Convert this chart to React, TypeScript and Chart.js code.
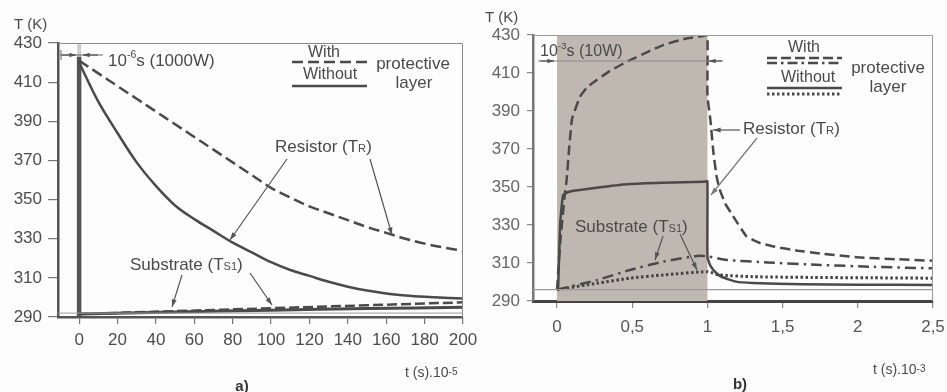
import React, { useEffect, useRef } from "react";
import { Chart, registerables } from "chart.js";
Chart.register(...registerables);

// ---------- Panel a) : 1000 W pulse, 10^-6 s ----------
const aTime = [0, 10, 20, 30, 40, 50, 60, 70, 80, 90, 100, 110, 120, 130, 140, 150, 160, 170, 180, 190, 200];
const aResistorWith = [421, 414.5, 408, 401.5, 395, 388.5, 382, 375.5, 369, 362.5, 356, 351, 346.5, 343, 339.5, 336, 333, 330, 327.5, 325.5, 323.8];
const aResistorWithout = [420, 400, 384, 369, 357, 347, 340, 334, 328, 323, 318, 314, 311, 308, 305.5, 303.5, 302, 301, 300.3, 299.8, 299.5];
const aSubTime = [0, 50, 100, 150, 200];
const aSubstrateWith = [291.5, 293, 294.5, 296, 297.5];
const aSubstrateWithout = [291.5, 292.5, 293.5, 294.3, 295];
const aPulseTime = [0, 0];
const aPulseTemp = [290, 423];
const aRefTime = [-11, 200];
const aRefTemp = [292, 292];
const aXTicks = [0, 20, 40, 60, 80, 100, 120, 140, 160, 180, 200];
const aYTicks = [290, 310, 330, 350, 370, 390, 410, 430];

// ---------- Panel b) : 10 W pulse, 10^-3 s ----------
const bResWithTime = [0, 0.02, 0.05, 0.064, 0.08, 0.1, 0.153, 0.2, 0.264, 0.35, 0.485, 0.6, 0.705, 0.85, 0.97, 1.0, 1.0, 1.02, 1.04, 1.06, 1.08, 1.12, 1.16, 1.2, 1.26, 1.35, 1.45, 1.6, 1.75, 2.0, 2.25, 2.5];
const bResWithTemp = [296, 320, 345, 354, 370, 386, 397.5, 402.5, 406.3, 411, 416.8, 421, 424.7, 428, 429.5, 430, 398, 385, 368, 356, 349, 341, 336, 331, 324, 320.5, 318.5, 316.5, 315, 313, 312, 311.2];
const bResWithoutTime = [0, 0.007, 0.02, 0.04, 0.08, 0.15, 0.3, 0.48, 0.7, 0.98, 1.0, 1.0, 1.02, 1.06, 1.1, 1.19, 1.3, 1.63, 2.0, 2.5];
const bResWithoutTemp = [296, 296, 330, 345.8, 347.5, 348.4, 350, 351.6, 352.3, 352.8, 353, 313, 308.5, 304.6, 302.5, 300.2, 299.5, 298.8, 298.6, 298.4];
const bSubWithTime = [0, 0.264, 0.485, 0.705, 0.93, 1.0, 1.13, 1.4, 1.75, 2.1, 2.5];
const bSubWithTemp = [296, 301, 306.3, 310.7, 313.7, 313.5, 311.6, 310.3, 309, 308, 307.2];
const bSubWithoutTime = [0, 0.264, 0.485, 0.705, 1.0, 1.08, 1.3, 1.7, 2.1, 2.5];
const bSubWithoutTemp = [296, 299.3, 302, 303.7, 305.4, 303.7, 302.8, 302.4, 302.2, 302];
const bRefTime = [-0.16, 2.5];
const bRefTemp = [296, 296];
const bPulseWindow = [0, 1];
const bXTicks = [0, 0.5, 1, 1.5, 2, 2.5];
const bXLabels = ["0", "0,5", "1", "1,5", "2", "2,5"];
const bYTicks = [290, 310, 330, 350, 370, 390, 410, 430];

const FONT = '"Liberation Sans", Arial, sans-serif';
const INK = "#4a4a4a";

const pts = (xs: number[], ys: number[]) => xs.map((x, i) => ({ x, y: ys[i] }));

type Part = { s: string; k?: number; dy?: number };
function rich(ctx: CanvasRenderingContext2D, parts: Part[], x: number, y: number, size: number, align: "left" | "center" = "left", weight = "normal", color = INK) {
  const f = (k: number) => `${weight} ${Math.round(size * k * 10) / 10}px ${FONT}`;
  let w = 0;
  for (const p of parts) { ctx.font = f(p.k || 1); w += ctx.measureText(p.s).width; }
  let cx = align === "center" ? x - w / 2 : x;
  ctx.fillStyle = color;
  ctx.textAlign = "left";
  ctx.textBaseline = "middle";
  for (const p of parts) {
    ctx.font = f(p.k || 1);
    ctx.fillText(p.s, cx, y + (p.dy || 0) * size);
    cx += ctx.measureText(p.s).width;
  }
}
function arrow(ctx: CanvasRenderingContext2D, x1: number, y1: number, x2: number, y2: number, color = "#555", head = 8) {
  ctx.strokeStyle = color; ctx.fillStyle = color; ctx.lineWidth = 1.2; ctx.setLineDash([]);
  ctx.beginPath(); ctx.moveTo(x1, y1); ctx.lineTo(x2, y2); ctx.stroke();
  const a = Math.atan2(y2 - y1, x2 - x1);
  ctx.beginPath(); ctx.moveTo(x2, y2);
  ctx.lineTo(x2 - head * Math.cos(a - 0.32), y2 - head * Math.sin(a - 0.32));
  ctx.lineTo(x2 - head * Math.cos(a + 0.32), y2 - head * Math.sin(a + 0.32));
  ctx.closePath(); ctx.fill();
}
function seg(ctx: CanvasRenderingContext2D, x1: number, x2: number, y: number, dash: number[], w = 2.5, color = INK) {
  ctx.strokeStyle = color; ctx.lineWidth = w; ctx.setLineDash(dash);
  ctx.beginPath(); ctx.moveTo(x1, y); ctx.lineTo(x2, y); ctx.stroke(); ctx.setLineDash([]);
}
function frame(chart: any, color: string) {
  const { ctx, chartArea: c } = chart;
  ctx.save(); ctx.strokeStyle = color; ctx.lineWidth = 1;
  ctx.beginPath(); ctx.moveTo(c.left, c.top + 0.5); ctx.lineTo(c.right - 0.5, c.top + 0.5); ctx.lineTo(c.right - 0.5, c.bottom); ctx.stroke();
  ctx.restore();
}

const fixAxis = (w?: number, h?: number) => (s: any) => {
  if (w !== undefined) s.width = w;
  if (h !== undefined) s.height = h;
  s.paddingLeft = 0; s.paddingRight = 0; s.paddingTop = 0; s.paddingBottom = 0;
};

const lineDs = (label: string, data: any[], width: number, dash: number[], color = INK, tension = 0.35) => ({
  label, data, borderColor: color, borderWidth: width, borderDash: dash, pointRadius: 0, fill: false, tension,
  borderCapStyle: "butt" as const,
});

const annotA = {
  id: "annotA",
  beforeDatasetsDraw(chart: any) {
    const { ctx, chartArea: c, scales } = chart;
    const x0 = scales.x.getPixelForValue(aPulseTime[0]);
    ctx.save();
    ctx.strokeStyle = "#cfcfcf"; ctx.lineWidth = 4;
    ctx.beginPath(); ctx.moveTo(x0, c.top); ctx.lineTo(x0, c.bottom); ctx.stroke();
    ctx.restore();
  },
  afterDraw(chart: any) {
    const { ctx } = chart;
    frame(chart, "#8a8a8a");
    ctx.save();
    rich(ctx, [{ s: "T (K)" }], 14, 25, 15);
    // pulse marker
    ctx.strokeStyle = "#666"; ctx.lineWidth = 1;
    ctx.beginPath(); ctx.moveTo(60, 55); ctx.lineTo(103, 55); ctx.stroke();
    ctx.beginPath(); ctx.moveTo(61, 50); ctx.lineTo(61, 60); ctx.stroke();
    arrow(ctx, 62, 55, 76, 55, "#555", 7);
    arrow(ctx, 98, 55, 83, 55, "#555", 7);
    rich(ctx, [{ s: "10" }, { s: "-6", k: 0.62, dy: -0.35 }, { s: "s (1000W)" }], 108, 61, 17);
    // legend
    rich(ctx, [{ s: "With" }], 324, 53, 16, "center");
    seg(ctx, 292, 367, 62, [11, 5]);
    rich(ctx, [{ s: "Without" }], 330, 75, 16, "center");
    seg(ctx, 292, 367, 86, []);
    rich(ctx, [{ s: "protective" }], 413, 64, 17, "center");
    rich(ctx, [{ s: "layer" }], 414, 83, 17, "center");
    // labels
    rich(ctx, [{ s: "Resistor (T" }, { s: "R", k: 0.65, dy: 0.12 }, { s: ")" }], 275, 147, 17);
    arrow(ctx, 287, 159, 230, 240);
    arrow(ctx, 370, 159, 392, 235);
    rich(ctx, [{ s: "Substrate (T" }, { s: "S1", k: 0.65, dy: 0.12 }, { s: ")" }], 130, 265, 17);
    arrow(ctx, 182, 275, 172, 307);
    arrow(ctx, 250, 273, 272, 305);
    rich(ctx, [{ s: "t (s).10" }, { s: "-5", k: 0.72, dy: -0.05 }], 405, 373, 14);
    rich(ctx, [{ s: "a)" }], 242, 387, 15, "center", "bold", "#333");
    ctx.restore();
  },
};

const annotB = {
  id: "annotB",
  beforeDatasetsDraw(chart: any) {
    const { ctx, chartArea: c, scales } = chart;
    const xa = scales.x.getPixelForValue(bPulseWindow[0]);
    const xb = scales.x.getPixelForValue(bPulseWindow[1]);
    ctx.save();
    ctx.fillStyle = "#bfb8b0";
    ctx.fillRect(xa, c.top, xb - xa, c.bottom - c.top);
    ctx.restore();
  },
  afterDraw(chart: any) {
    const { ctx } = chart;
    frame(chart, "#9a9a9a");
    ctx.save();
    rich(ctx, [{ s: "T (K)" }], 15, 18, 15);
    // pulse duration marker
    ctx.strokeStyle = "#8a8a8a"; ctx.lineWidth = 1;
    ctx.beginPath(); ctx.moveTo(68, 61); ctx.lineTo(253, 61); ctx.stroke();
    arrow(ctx, 70, 61, 84, 61, "#555", 7);
    arrow(ctx, 252, 61, 239, 61, "#555", 7);
    rich(ctx, [{ s: "10" }, { s: "-3", k: 0.62, dy: -0.35 }, { s: "s (10W)" }], 70, 52, 16);
    // legend
    rich(ctx, [{ s: "With" }], 334, 48, 16, "center");
    seg(ctx, 297, 372, 58, [10, 4]);
    seg(ctx, 297, 372, 63, [10, 4, 2.5, 4]);
    rich(ctx, [{ s: "Without" }], 338, 78, 16, "center");
    seg(ctx, 297, 372, 88, []);
    seg(ctx, 297, 372, 94, [2.5, 2.5], 3);
    rich(ctx, [{ s: "protective" }], 418, 68, 17, "center");
    rich(ctx, [{ s: "layer" }], 418, 87, 17, "center");
    // labels
    rich(ctx, [{ s: "Resistor (T" }, { s: "R", k: 0.65, dy: 0.12 }, { s: ")" }], 273, 129, 17);
    arrow(ctx, 270, 130, 243, 130);
    arrow(ctx, 287, 138, 241, 195, "#777");
    rich(ctx, [{ s: "Substrate (T" }, { s: "S1", k: 0.65, dy: 0.12 }, { s: ")" }], 105, 227, 17);
    arrow(ctx, 193, 236, 185, 260);
    arrow(ctx, 210, 234, 227, 270);
    rich(ctx, [{ s: "t (s).10" }, { s: "-3", k: 0.72, dy: -0.05 }], 403, 370, 14);
    rich(ctx, [{ s: "b)" }], 270, 385, 15, "center", "bold", "#333");
    ctx.restore();
  },
};

export default function App() {
  const refA = useRef<HTMLCanvasElement>(null);
  const refB = useRef<HTMLCanvasElement>(null);

  useEffect(() => {
    const chartA = new Chart(refA.current!, {
      type: "line",
      data: {
        datasets: [
          lineDs("Initial temperature", pts(aRefTime, aRefTemp), 1, [], "#9c9c9c", 0),
          lineDs("Substrate (TS1), without layer", pts(aSubTime, aSubstrateWithout), 3, []),
          lineDs("Substrate (TS1), with layer", pts(aSubTime, aSubstrateWith), 2.5, [10, 4]),
          lineDs("Resistor (TR), without layer", pts(aTime, aResistorWithout), 2.5, []),
          lineDs("Resistor (TR), with layer", pts(aTime, aResistorWith), 2.5, [11, 5]),
          lineDs("Pulse 1000 W", pts(aPulseTime, aPulseTemp), 4.5, [], "#555", 0),
        ],
      },
      options: {
        animation: false,
        responsive: false,
        layout: { padding: { top: 43, right: 27, left: 0, bottom: 0 } },
        plugins: { legend: { display: false }, tooltip: { enabled: false } },
        scales: {
          x: {
            type: "linear", min: -11, max: 200,
            afterFit: fixAxis(undefined, 75),
            afterBuildTicks: (s: any) => { s.ticks = aXTicks.map((v) => ({ value: v })); },
            grid: { drawOnChartArea: false, drawTicks: true, tickLength: 7, color: "#777", lineWidth: 1.2 },
            border: { display: true, color: "#555", width: 2.5 },
            ticks: { color: "#4d4d4d", font: { family: FONT, size: 17 }, padding: 6, maxRotation: 0, autoSkip: false },
          },
          y: {
            type: "linear", min: 290, max: 430,
            afterFit: fixAxis(58),
            afterBuildTicks: (s: any) => { s.ticks = aYTicks.map((v) => ({ value: v })); },
            grid: { drawOnChartArea: false, drawTicks: true, tickLength: 10, color: "#777", lineWidth: 1.2 },
            border: { display: true, color: "#555", width: 2.5 },
            ticks: { color: "#4d4d4d", font: { family: FONT, size: 17 }, padding: 6 },
          },
        },
      },
      plugins: [annotA],
    });

    const chartB = new Chart(refB.current!, {
      type: "line",
      data: {
        datasets: [
          lineDs("Initial temperature", pts(bRefTime, bRefTemp), 1.2, [], "#9a9a9a", 0),
          lineDs("Substrate (TS1), without layer", pts(bSubWithoutTime, bSubWithoutTemp), 3, [2.5, 2.5], "#444", 0.2),
          lineDs("Substrate (TS1), with layer", pts(bSubWithTime, bSubWithTemp), 2.5, [11, 5, 2.5, 5], INK, 0.2),
          lineDs("Resistor (TR), without layer", pts(bResWithoutTime, bResWithoutTemp), 2.5, [], INK, 0.12),
          lineDs("Resistor (TR), with layer", pts(bResWithTime, bResWithTemp), 2.5, [10, 5], INK, 0.12),
        ],
      },
      options: {
        animation: false,
        responsive: false,
        layout: { padding: { top: 35, right: 14, left: 0, bottom: 0 } },
        plugins: { legend: { display: false }, tooltip: { enabled: false } },
        scales: {
          x: {
            type: "linear", min: -0.16, max: 2.5,
            afterFit: fixAxis(undefined, 91),
            afterBuildTicks: (s: any) => { s.ticks = bXTicks.map((v) => ({ value: v })); },
            grid: { drawOnChartArea: false, drawTicks: true, tickLength: 7, color: "#888", lineWidth: 1.2 },
            border: { display: true, color: "#444", width: 3 },
            ticks: {
              color: "#555", font: { family: FONT, size: 17 }, padding: 9, maxRotation: 0, autoSkip: false,
              callback: (v: any) => { const i = bXTicks.indexOf(Number(v)); return i >= 0 ? bXLabels[i] : ""; },
            },
          },
          y: {
            type: "linear", min: 290, max: 430,
            afterFit: fixAxis(63),
            afterBuildTicks: (s: any) => { s.ticks = bYTicks.map((v) => ({ value: v })); },
            grid: { drawOnChartArea: false, drawTicks: true, tickLength: 6, color: "#888", lineWidth: 1.2 },
            border: { display: true, color: "#777", width: 2.5 },
            ticks: { color: "#666", font: { family: FONT, size: 17 }, padding: 7 },
          },
        },
      },
      plugins: [annotB],
    });

    return () => { chartA.destroy(); chartB.destroy(); };
  }, []);

  return (
    <div style={{ position: "fixed", left: 0, top: 0, width: 947, height: 392, background: "#fdfdfd", overflow: "hidden" }}>
      <canvas ref={refA} width={490} height={392} style={{ position: "absolute", left: 0, top: 0, width: 490, height: 392 }} />
      <canvas ref={refB} width={477} height={392} style={{ position: "absolute", left: 470, top: 0, width: 477, height: 392 }} />
    </div>
  );
}
